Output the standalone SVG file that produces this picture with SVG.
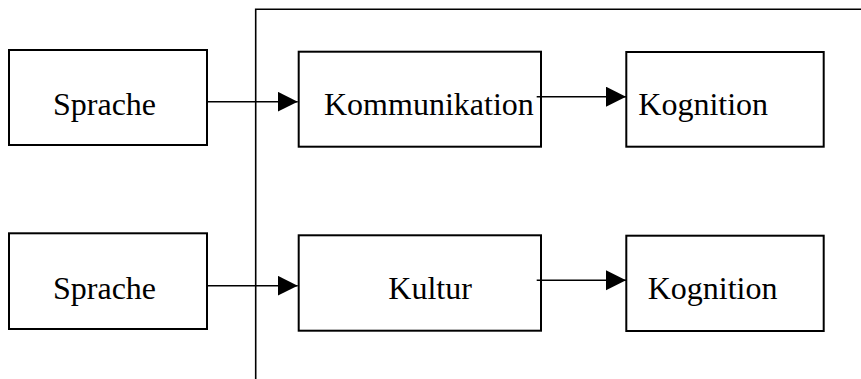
<svg xmlns="http://www.w3.org/2000/svg" width="861" height="379" viewBox="0 0 861 379">
<style>
.box{fill:#fff;stroke:#000;stroke-width:2}
.lbl{font-size:32px;fill:#000}
.ln{stroke:#000;stroke-width:1.6;fill:none}
</style>
<defs>
<marker id="ah" markerUnits="userSpaceOnUse" markerWidth="21" markerHeight="21" refX="20" refY="10" orient="auto">
<path d="M0,0 L20,10 L0,20 Z" fill="#000"/>
</marker>
</defs>
<rect width="861" height="379" fill="#fff"/>
<g id="frame">
<path class="ln" d="M255.7,379 V9.3 H861"/>
</g>
<g font-family="'Liberation Serif', 'Times New Roman', 'DejaVu Serif', serif">
<g id="n-sprache1"><rect class="box" x="9" y="50" width="198" height="95"/><text class="lbl" x="53" y="115">Sprache</text></g>
<g id="n-kommunikation"><rect class="box" x="298.7" y="51.7" width="242.3" height="95"/><text class="lbl" x="324" y="115">Kommunikation</text></g>
<g id="n-kognition1"><rect class="box" x="626.3" y="52" width="197.4" height="94.7"/><text class="lbl" x="638.3" y="115">Kognition</text></g>
<g id="n-sprache2"><rect class="box" x="9" y="233.3" width="198" height="95.7"/><text class="lbl" x="53" y="299">Sprache</text></g>
<g id="n-kultur"><rect class="box" x="298.7" y="235.3" width="242.3" height="95.4"/><text class="lbl" x="388.3" y="299">Kultur</text></g>
<g id="n-kognition2"><rect class="box" x="626.3" y="235.7" width="197.4" height="95.3"/><text class="lbl" x="647.7" y="299">Kognition</text></g>
</g>
<g id="connectors">
<line class="ln" x1="207" y1="101.7" x2="297.7" y2="101.7" marker-end="url(#ah)"/>
<line class="ln" x1="536.7" y1="96.7" x2="626" y2="96.7" marker-end="url(#ah)"/>
<line class="ln" x1="207" y1="285.7" x2="297.7" y2="285.7" marker-end="url(#ah)"/>
<line class="ln" x1="536.7" y1="280.3" x2="626" y2="280.3" marker-end="url(#ah)"/>
</g>
</svg>
